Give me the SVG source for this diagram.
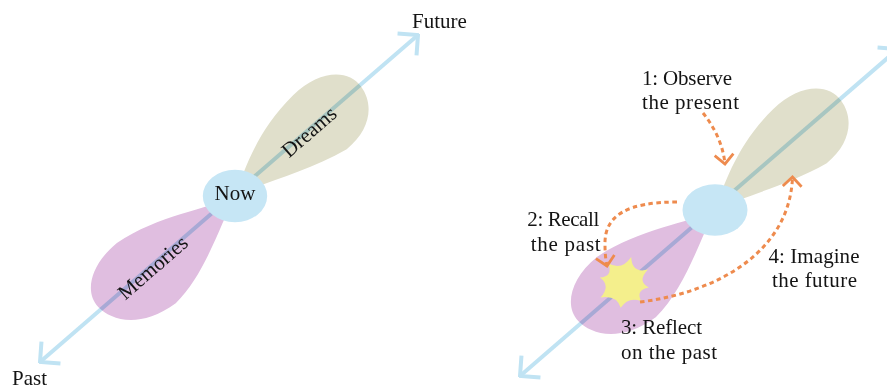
<svg xmlns="http://www.w3.org/2000/svg" xmlns:xlink="http://www.w3.org/1999/xlink" width="887" height="390" viewBox="0 0 887 390">
  <style>
    .lbl { font-family: "Liberation Serif", "Times New Roman", serif; font-size: 21px; fill: #141414; }
    .mid { text-anchor: middle; }
    .dreams { fill: #e0dfcb; }
    .memories { fill: #e0bee0; }
    .now { fill: #c6e6f5; }
    .timeline { fill: none; stroke: #c0e3f3; stroke-width: 4; mix-blend-mode: multiply; }
    .step { fill: none; stroke: #ee8b4e; stroke-width: 3; stroke-dasharray: 4.5 3.5; }
    .star { fill: #f4ef8c; }
  </style>
  <defs>
    <marker id="ah-blue" viewBox="-18 -18 20 36" markerWidth="20" markerHeight="36" refX="0" refY="0" orient="auto-start-reverse" markerUnits="userSpaceOnUse">
      <path d="M-14.5,-14.5 L0,0 L-14.5,14.5" fill="none" stroke="#c0e3f3" stroke-width="4"/>
    </marker>
    <marker id="ah-orange" viewBox="-12 -12 14 24" markerWidth="14" markerHeight="24" refX="0" refY="0" orient="auto" markerUnits="userSpaceOnUse">
      <path d="M-9.4,-9.4 L0,0 L-9.4,9.4" fill="none" stroke="#ee8b4e" stroke-width="2.8" stroke-dasharray="none"/>
    </marker>
    <path id="dreams-shape" d="M0,0 C25,-14 60,-35 110,-38 C146,-40 169,-22 167,0 C165,23 145,39 115,38 C70,29 30,8 0,0 Z"/>
    <path id="memories-shape" d="M0,0 C30,8 70,36 120,42 C155,43 177,26 176,6 C175,-12 160,-38 115,-42 C75,-40 30,-12 0,0 Z"/>
  </defs>

  <!-- Left panel petals -->
  <g id="dreams-left">
    <use xlink:href="#dreams-shape" class="dreams" transform="translate(235,196) rotate(-41)"/>
  </g>
  <g id="memories-left">
    <use xlink:href="#memories-shape" class="memories" transform="translate(235,196) rotate(139)"/>
  </g>

  <!-- Right panel petals -->
  <g id="dreams-right">
    <use xlink:href="#dreams-shape" class="dreams" transform="translate(715,210) rotate(-41)"/>
  </g>
  <g id="memories-right">
    <use xlink:href="#memories-shape" class="memories" transform="translate(715,210) rotate(139)"/>
  </g>

  <!-- Timeline connectors -->
  <g id="connectors-timeline">
    <path class="timeline" d="M40,362 L418,35" marker-start="url(#ah-blue)" marker-end="url(#ah-blue)"/>
    <path class="timeline" d="M520,376 L898,49" marker-start="url(#ah-blue)" marker-end="url(#ah-blue)"/>
  </g>

  <!-- Left panel nodes -->
  <g id="now-left">
    <ellipse class="now" cx="235" cy="196" rx="32.2" ry="26.2"/>
    <text class="lbl mid" x="235" y="200">Now</text>
  </g>
  <g id="dreams-left-label">
    <text class="lbl mid" transform="translate(235,196) rotate(-41)" x="98" y="7">Dreams</text>
  </g>
  <g id="memories-left-label">
    <text class="lbl mid" transform="translate(235,196) rotate(-41)" x="-109" y="7">Memories</text>
  </g>
  <g id="future-label">
    <text class="lbl" x="412" y="27.5">Future</text>
  </g>
  <g id="past-label">
    <text class="lbl" x="12" y="385">Past</text>
  </g>

  <!-- Right panel nodes -->
  <g id="now-right">
    <ellipse class="now" cx="715" cy="210" rx="32.5" ry="25.8"/>
  </g>
  <g id="reflect-star">
    <path class="star" d="M608.4,263.2 Q621.5,271.2 631.2,257 Q631.8,273.6 648,269.6 Q636.7,281.4 648.8,287.5 Q635.6,289.8 641,301 Q628.1,296.3 620.7,307.8 Q616.7,294.8 600.6,297.5 Q611.1,285.7 599.9,277.5 Q613.2,276.7 608.4,263.2 Z"/>
  </g>
  <g id="label-observe">
    <text class="lbl" x="642" y="85" textLength="90">1: Observe</text>
    <text class="lbl" x="642" y="108.5" textLength="97">the present</text>
  </g>
  <g id="label-recall">
    <text class="lbl mid" x="563.3" y="226" textLength="72">2: Recall</text>
    <text class="lbl mid" x="565.7" y="250.5" textLength="70">the past</text>
  </g>
  <g id="label-reflect">
    <text class="lbl" x="621" y="334.3" textLength="81">3: Reflect</text>
    <text class="lbl" x="621" y="358.5" textLength="96">on the past</text>
  </g>
  <g id="label-imagine">
    <text class="lbl mid" x="814" y="263" textLength="91">4: Imagine</text>
    <text class="lbl mid" x="814.5" y="286.5" textLength="85">the future</text>
  </g>

  <!-- Step connectors -->
  <g id="connectors-steps">
    <path class="step" d="M703,113 C715,128 723,145 725,164" marker-end="url(#ah-orange)"/>
    <path class="step" d="M677,202 C628,202 604,215 605,245 C605,255 606,261 607,266" marker-end="url(#ah-orange)"/>
    <path class="step" d="M640,302 C720,292 790,250 792.5,177" marker-end="url(#ah-orange)"/>
  </g>
</svg>
